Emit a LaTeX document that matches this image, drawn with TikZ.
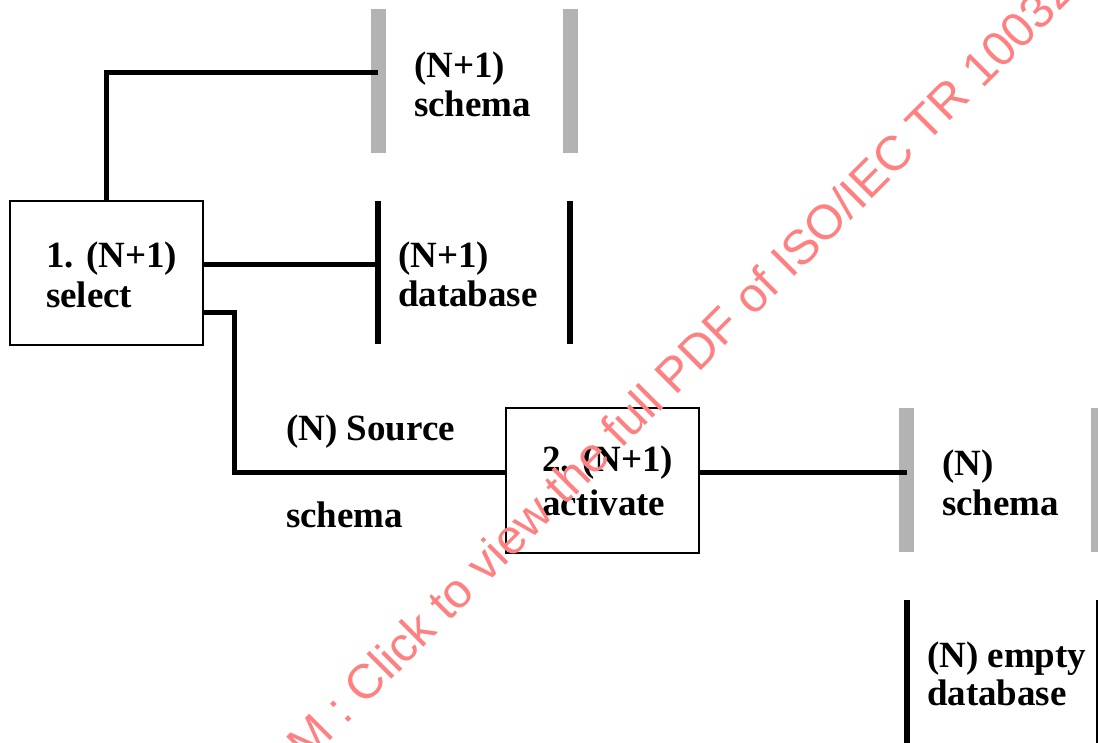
\documentclass[tikz,border=0pt]{standalone}
\usepackage{fontspec}
\setmainfont{Liberation Serif}
\newfontfamily\wmfont{Liberation Sans}
\definecolor{barGray}{HTML}{B3B3B3}
\definecolor{wmRed}{HTML}{FF8080}
\tikzset{
  conn/.style={line width=5pt, black, line join=miter},
  procbox/.style={draw, line width=2pt, inner sep=0pt, outer sep=0pt, minimum width=193pt, minimum height=144pt},
  storearea/.style={inner sep=0pt, outer sep=0pt},
  graybar/.style={line width=15pt, barGray, line cap=butt},
  blackbar/.style={line width=6pt, black, line cap=butt},
  lbl/.style={font=\fontsize{37}{44}\selectfont\bfseries, anchor=base west, inner sep=0pt, outer sep=0pt},
  wm/.style={font=\wmfont\fontsize{48.5}{50}\selectfont, text=wmRed, inner sep=0pt, outer sep=0pt}
}
\begin{document}
\begin{tikzpicture}[x=1pt,y=-1pt]
\useasboundingbox (0,0) rectangle (1098,743);
\clip (0,0) rectangle (1098,743);

% storage areas
\node[storearea, minimum width=192pt, minimum height=144pt] (sch1) at (474,81) {};
\node[storearea, minimum width=192pt, minimum height=143pt] (db1) at (474,272.5) {};
\node[storearea, minimum width=191.5pt, minimum height=144pt] (sch2) at (1002.25,480) {};
\node[storearea, minimum width=192pt, minimum height=160pt] (db2) at (1002.5,680) {};

\draw[graybar] (sch1.north west) -- (sch1.south west);
\draw[graybar] (sch1.north east) -- (sch1.south east);
\draw[blackbar] (db1.north west) -- (db1.south west);
\draw[blackbar] (db1.north east) -- (db1.south east);
\draw[graybar] (sch2.north west) -- (sch2.south west);
\draw[graybar] (sch2.north east) -- (sch2.south east);
\draw[blackbar] (db2.north west) -- (db2.south west);
\draw[blackbar] (db2.north east) -- (db2.south east);

% process boxes
\node[procbox] (box1) at (106.5,273) {};
\node[procbox, minimum height=145pt] (box2) at (602.5,480.5) {};

% connectors
\draw[conn] (box1.north) |- ([yshift=8pt]sch1.west);
\draw[conn] ([yshift=8pt]box1.east) -- ([yshift=8pt]box1.east -| db1.west);
\draw[conn] ([yshift=-40pt]box1.east) -- ++(31,0) |- ([yshift=8.5pt]box2.west);
\draw[conn] ([yshift=8.5pt]box2.east) -- ([yshift=8.5pt]box2.east -| sch2.west);

% labels
\node[lbl] (t1a) at (414,78) {(N+1)};
\node[lbl] (t1b) at (414,117) {schema};
\node[lbl] (t2a) at (46,268) {1. (N+1)};
\node[lbl] (t2b) at (46,308) {select};
\node[lbl] (t3a) at (398,268) {(N+1)};
\node[lbl] (t3b) at (398,307) {database};
\node[lbl] (t4a) at (286,440) {(N) Source};
\node[lbl] (t4b) at (286,527) {schema};
\node[lbl] (t5a) at (542,471) {2. (N+1)};
\node[lbl] (t5b) at (542,515) {activate};
\node[lbl] (t6a) at (942,475) {(N)};
\node[lbl] (t6b) at (942,515) {schema};
\node[lbl] (t7a) at (927,667) {(N) empty};
\node[lbl] (t7b) at (927,705) {database};

% watermark
\node[wm, rotate=45, anchor=base west] (wmark) at (307.5,763.8) {M : Click to view the full PDF of ISO/IEC TR 10032};
\end{tikzpicture}
\end{document}
